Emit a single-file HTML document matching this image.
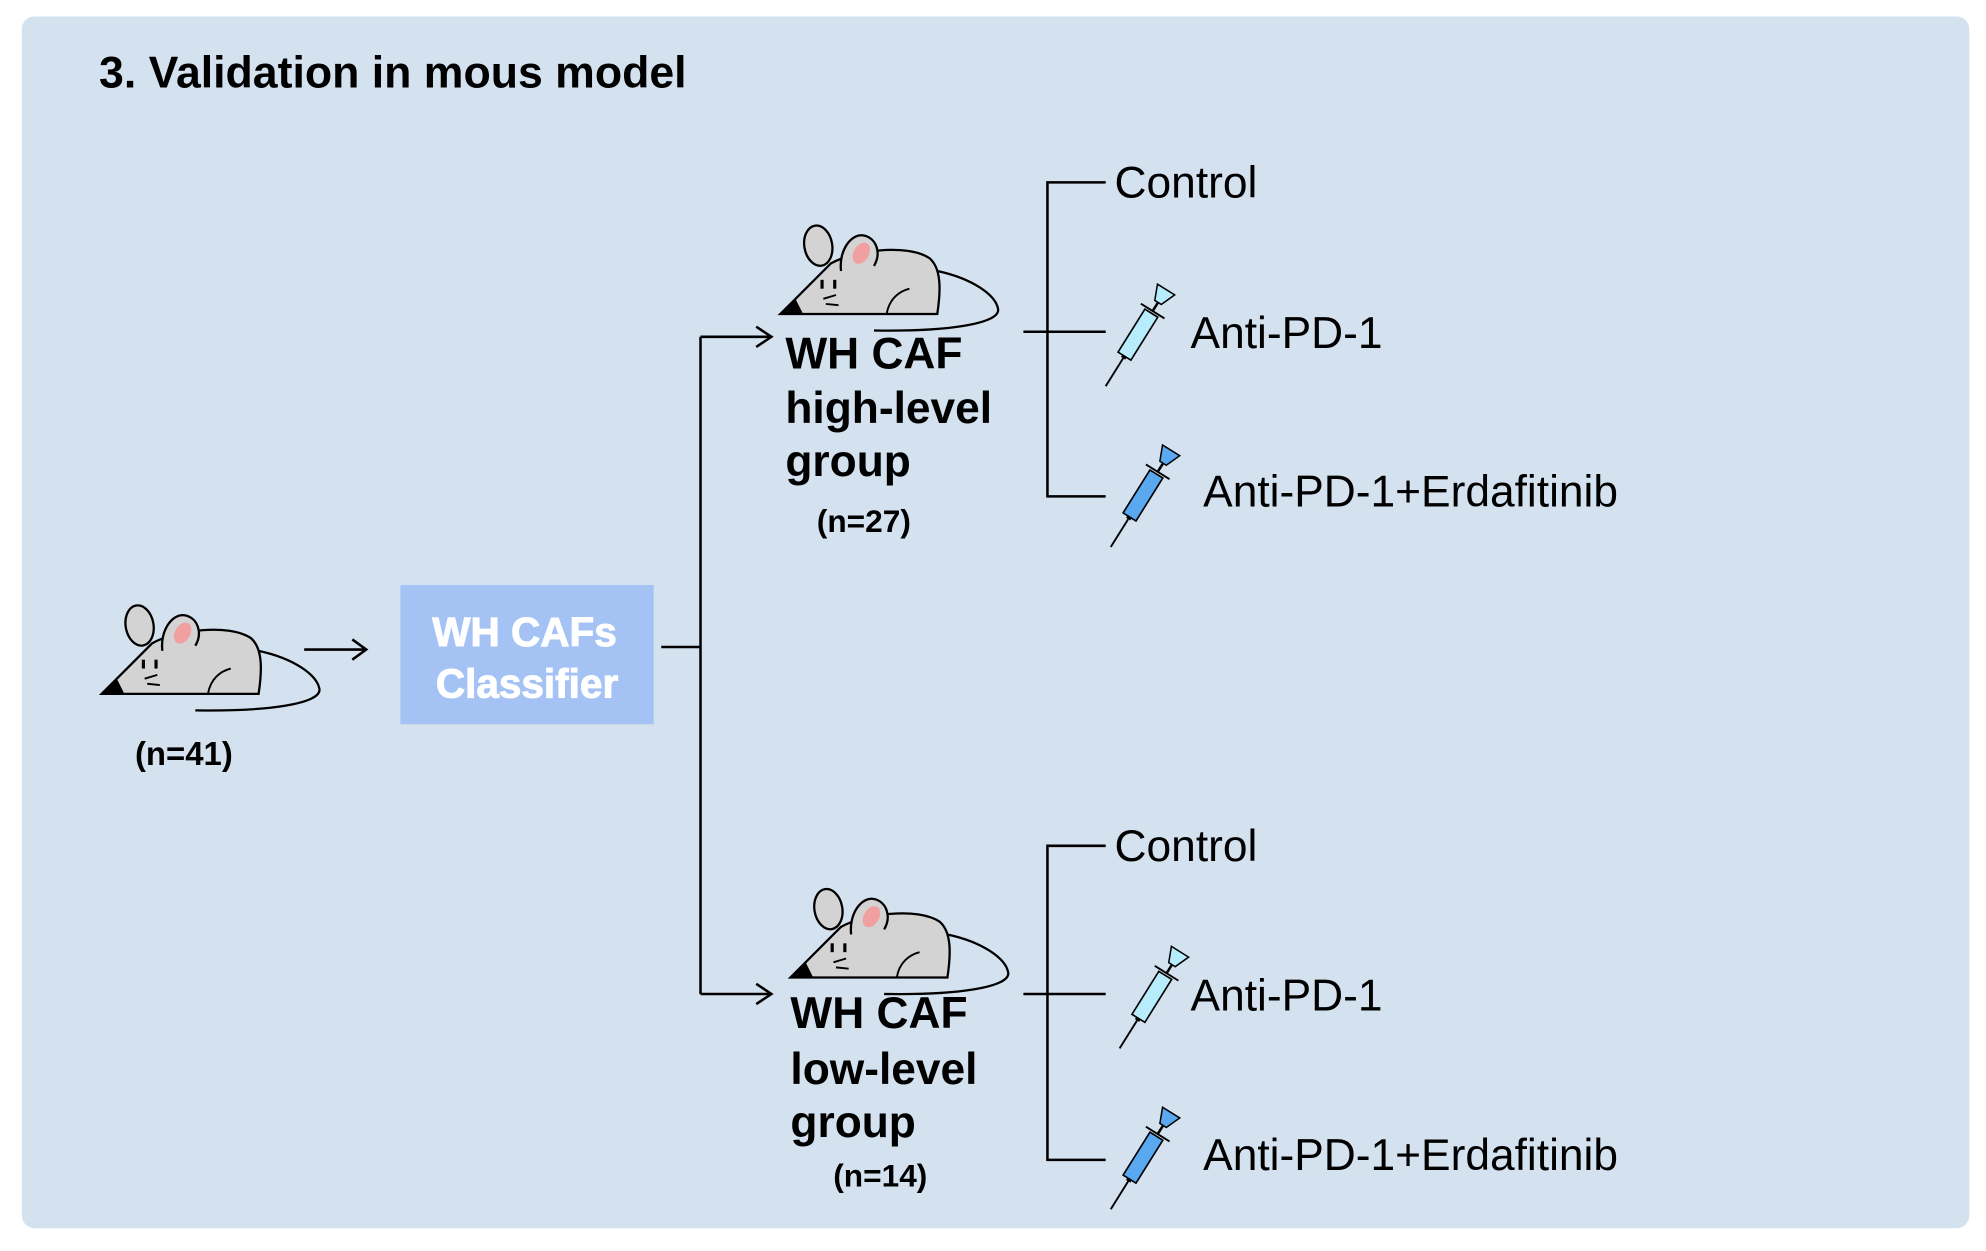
<!DOCTYPE html>
<html><head><meta charset="utf-8"><style>
html,body{margin:0;padding:0;background:#fff;}
svg{display:block;}
text{font-family:"Liberation Sans",Arial,sans-serif;}
</style></head><body>
<svg width="1986" height="1251" viewBox="0 0 1568 988" xmlns="http://www.w3.org/2000/svg">
<defs>
<g id="mouse">
  <path d="M124,36 C152,42 170,55 172,66 C174,78 130,84 74,83" fill="none" stroke="#000" stroke-width="1.8"/>
  <ellipse cx="30" cy="16" rx="11" ry="16" fill="#d3d3d3" stroke="#000" stroke-width="1.8" transform="rotate(-10 30 16)"/>
  <path d="M0,70 L40,30 C58,20 100,14 118,26 C127,34 127,50 124,70 Z" fill="#d3d3d3" stroke="#000" stroke-width="1.8"/>
  <path d="M48,36 C46,20 56,6 66,8 C76,10 80,22 74,32" fill="#d3d3d3" stroke="#000" stroke-width="1.8"/>
  <ellipse cx="64" cy="22" rx="6" ry="9" fill="#f0a0a0" transform="rotate(30 64 22)"/>
  <path d="M0,70 L12,58 L18,70 Z" fill="#000"/>
  <line x1="33" y1="43" x2="33" y2="50" stroke="#000" stroke-width="2.5"/>
  <line x1="43" y1="43" x2="43" y2="50" stroke="#000" stroke-width="2.5"/>
  <path d="M34,58 L44,55 M36,62 L46,63" stroke="#000" stroke-width="1.5" fill="none"/>
  <path d="M84,70 C86,58 94,52 102,50" stroke="#000" stroke-width="1.5" fill="none"/>
</g>
<g id="syr1">
  <line x1="0" y1="0" x2="0" y2="-26" stroke="#000" stroke-width="1.5"/>
  <rect x="-2" y="-30" width="4" height="4" fill="#000"/>
  <rect x="-6" y="-68" width="12" height="40" fill="#b6ecfb" stroke="#000" stroke-width="1.3"/>
  <line x1="-11" y1="-70" x2="11" y2="-70" stroke="#000" stroke-width="1.5"/>
  <line x1="0" y1="-70" x2="0" y2="-80" stroke="#000" stroke-width="2"/>
  <path d="M-3,-78 L3,-78 L8,-90 L-8,-90 Z" fill="#b6ecfb" stroke="#000" stroke-width="1.2"/>
</g>
<g id="syr2">
  <line x1="0" y1="0" x2="0" y2="-26" stroke="#000" stroke-width="1.5"/>
  <rect x="-2" y="-30" width="4" height="4" fill="#000"/>
  <rect x="-6" y="-68" width="12" height="40" fill="#5aa8f0" stroke="#000" stroke-width="1.3"/>
  <line x1="-11" y1="-70" x2="11" y2="-70" stroke="#000" stroke-width="1.5"/>
  <line x1="0" y1="-70" x2="0" y2="-80" stroke="#000" stroke-width="2"/>
  <path d="M-3,-78 L3,-78 L8,-90 L-8,-90 Z" fill="#5aa8f0" stroke="#000" stroke-width="1.2"/>
</g>
</defs>
<rect x="17" y="13" width="1538" height="957" rx="10" fill="#d4e1ef"/>
<text x="78" y="69" font-size="35" font-weight="bold" textLength="464" lengthAdjust="spacingAndGlyphs">3. Validation in mous model</text>

<use href="#mouse" transform="translate(80,478)"/>
<text x="145" y="604" font-size="26" font-weight="bold" text-anchor="middle">(n=41)</text>
<line x1="240" y1="513" x2="288" y2="513" stroke="#000" stroke-width="2"/>
<path d="M278,505 L289,513 L278,521" fill="none" stroke="#000" stroke-width="2"/>

<rect x="316" y="462" width="200" height="110" fill="#a4c2f4"/>
<text x="414" y="510" font-size="32" font-weight="bold" fill="#fff" text-anchor="middle" stroke="#fff" stroke-width="0.8">WH CAFs</text>
<text x="416" y="551" font-size="32" font-weight="bold" fill="#fff" text-anchor="middle" stroke="#fff" stroke-width="0.8">Classifier</text>

<g stroke="#000" stroke-width="2" fill="none">
<path d="M522,511 L553,511 M553,266 L553,785 M553,266 L608,266 M553,785 L608,785"/>
<path d="M597,258 L609,266 L597,274 M597,777 L609,785 L597,793"/>
<path d="M873,144 L827,144 L827,392 L873,392 M808,262 L873,262"/>
<path d="M873,668 L827,668 L827,916 L873,916 M808,785 L873,785"/>
</g>

<use href="#mouse" transform="translate(616,178)"/>
<use href="#mouse" transform="translate(624,702)"/>

<g font-size="35" font-weight="bold">
<text x="620" y="291">WH CAF</text>
<text x="620" y="334">high-level</text>
<text x="620" y="376">group</text>
<text x="624" y="812">WH CAF</text>
<text x="624" y="856">low-level</text>
<text x="624" y="898">group</text>
</g>
<text x="682" y="420" font-size="25" font-weight="bold" text-anchor="middle">(n=27)</text>
<text x="695" y="937" font-size="25" font-weight="bold" text-anchor="middle">(n=14)</text>

<use href="#syr1" transform="translate(873,305) rotate(32)"/>
<use href="#syr2" transform="translate(877,432) rotate(32)"/>
<use href="#syr1" transform="translate(884,828) rotate(32)"/>
<use href="#syr2" transform="translate(877,955) rotate(32)"/>

<g font-size="35">
<text x="880" y="156">Control</text>
<text x="940" y="275">Anti-PD-1</text>
<text x="950" y="400">Anti-PD-1+Erdafitinib</text>
<text x="880" y="680">Control</text>
<text x="940" y="798">Anti-PD-1</text>
<text x="950" y="924">Anti-PD-1+Erdafitinib</text>
</g>
</svg>
</body></html>
